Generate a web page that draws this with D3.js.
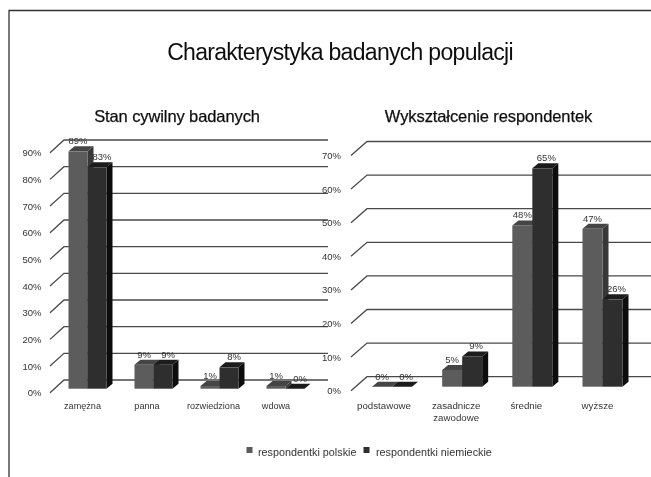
<!DOCTYPE html>
<html><head><meta charset="utf-8">
<script src="https://cdn.jsdelivr.net/npm/d3@7"></script>
<style>html,body{margin:0;padding:0;background:#fff}svg{display:block}text{font-family:"Liberation Sans",Arial,sans-serif}</style>
</head><body><svg id="c" width="651" height="477"></svg>
<script>
const titleMain = "Charakterystyka badanych populacji";
const seriesNames = ["respondentki polskie", "respondentki niemieckie"];
const leftTitle = "Stan cywilny badanych";
const leftCats = ["zamężna", "panna", "rozwiedziona", "wdowa"];
const leftPL = [89, 9, 1, 1];
const leftDE = [83, 9, 8, 0];
const leftTicks = [0, 10, 20, 30, 40, 50, 60, 70, 80, 90];
const rightTitle = "Wykształcenie respondentek";
const rightCats = [["podstawowe"], ["zasadnicze", "zawodowe"], ["średnie"], ["wyższe"]];
const rightPL = [0, 5, 48, 47];
const rightDE = [0, 9, 65, 26];
const rightTicks = [0, 10, 20, 30, 40, 50, 60, 70];

const svg = d3.select("#c");
const defs = svg.append("defs");
defs.append("filter").attr("id", "soft").attr("x", "-2%").attr("y", "-2%").attr("width", "104%").attr("height", "104%")
  .append("feGaussianBlur").attr("stdDeviation", 0.55);
const root = svg.append("g").attr("filter", "url(#soft)");
root.append("rect").attr("width", 651).attr("height", 477).attr("fill", "#fff");

root.append("path").attr("d", "M9,477V10.5H651").attr("fill", "none").attr("stroke", "#333").attr("stroke-width", 1.3);
root.append("text").attr("x", 340).attr("y", 60).attr("text-anchor", "middle").attr("font-size", 23)
  .attr("letter-spacing", -0.7).attr("fill", "#111").text(titleMain);

const colors = {
  pl: {front: "#5b5b5b", top: "#454545", side: "#383838"},
  de: {front: "#2f2f2f", top: "#1c1c1c", side: "#0f0f0f"}
};
const dx = 6, dy = 5;

function panel(o) {
  const g = root.append("g");
  const y = d3.scaleLinear().domain(o.domain).range(o.yRange);
  const x = d3.scalePoint().domain(d3.range(o.cats.length)).range(o.xCenters);
  const yFront = v => y(v) + 4, yBack = v => y(v) - o.back;

  g.append("text").attr("x", o.titleX).attr("y", 122).attr("text-anchor", "middle").attr("font-size", 16.5)
    .attr("letter-spacing", -0.1).attr("stroke", "#111").attr("stroke-width", 0.25).attr("fill", "#111").text(o.title);

  o.ticks.forEach(t => {
    g.append("path")
      .attr("d", `M${o.axisX},${yFront(t)}L${o.axisX + o.wall},${yBack(t)}H${o.gridEnd}`)
      .attr("fill", "none").attr("stroke", "#4a4a4a").attr("stroke-width", 1.3);
  });

  const axis = d3.axisLeft(d3.scaleLinear().domain(o.domain).range(o.yRange.map(r => r + 4)))
    .tickValues(o.ticks).tickSize(0).tickPadding(0).tickFormat(d => d + "%");
  const ax = g.append("g").attr("transform", `translate(${o.labelX},0)`).call(axis);
  ax.select(".domain").remove();
  ax.selectAll("text").attr("font-size", 9.5).attr("font-family", '"Liberation Sans",Arial,sans-serif').attr("fill", "#333");

  o.cats.forEach((c, i) => {
    [["pl", o.a[i], -o.bw, 0], ["de", o.b[i], 0, o.labelShift]].forEach(([k, v, off, ls]) => {
      const x0 = x(i) + off, x1 = x0 + o.bw, y0 = y(0), yt = y(v), col = colors[k];
      g.append("path").attr("fill", col.side).attr("d", `M${x1},${yt}l${dx},${-dy}V${y0 - dy}l${-dx},${dy}Z`);
      g.append("path").attr("fill", col.top).attr("d", `M${x0},${yt}l${dx},${-dy}H${x1 + dx}l${-dx},${dy}Z`);
      g.append("rect").attr("x", x0).attr("y", yt).attr("width", o.bw).attr("height", Math.max(0, y0 - yt)).attr("fill", col.front);
      g.append("text").attr("x", x0 + o.bw / 2 + ls).attr("y", yt - dy - 2).attr("text-anchor", "middle")
        .attr("font-size", 9.5).attr("fill", "#333").text(v + "%");
    });
    const lines = Array.isArray(c) ? c : [c];
    lines.forEach((l, j) => {
      g.append("text").attr("x", x(i) + o.catShift[i]).attr("y", 408.5 + j * 12).attr("text-anchor", "middle")
        .attr("font-size", o.catSize).attr("fill", "#333").text(l);
    });
  });
}

panel({
  title: leftTitle, titleX: 177, cats: leftCats, a: leftPL, b: leftDE, ticks: leftTicks,
  domain: [0, 90], yRange: [388.7, 148.7], back: 8.7, xCenters: [87.5, 285.5], bw: 19,
  axisX: 50, wall: 14, gridEnd: 328, labelX: 41.5, labelShift: 5, catShift: [-5, -6.5, -6, -9.5], catSize: 9.1
});
panel({
  title: rightTitle, titleX: 488.5, cats: rightCats, a: rightPL, b: rightDE, ticks: rightTicks,
  domain: [0, 70], yRange: [386.7, 151.5], back: 10, xCenters: [392, 602.5], bw: 20,
  axisX: 351, wall: 16, gridEnd: 651, labelX: 341, labelShift: 4, catShift: [-8, -6, -6, -5], catSize: 9.7
});

const lg = root.append("g");
[[246.5, 258, colors.pl.front], [363.5, 376, colors.de.front]].forEach((p, i) => {
  lg.append("rect").attr("x", p[0]).attr("y", 447).attr("width", 6).attr("height", 6).attr("fill", p[2]);
  lg.append("text").attr("x", p[1]).attr("y", 455.5).attr("font-size", 10.8).attr("fill", "#333").text(seriesNames[i]);
});
</script></body></html>
